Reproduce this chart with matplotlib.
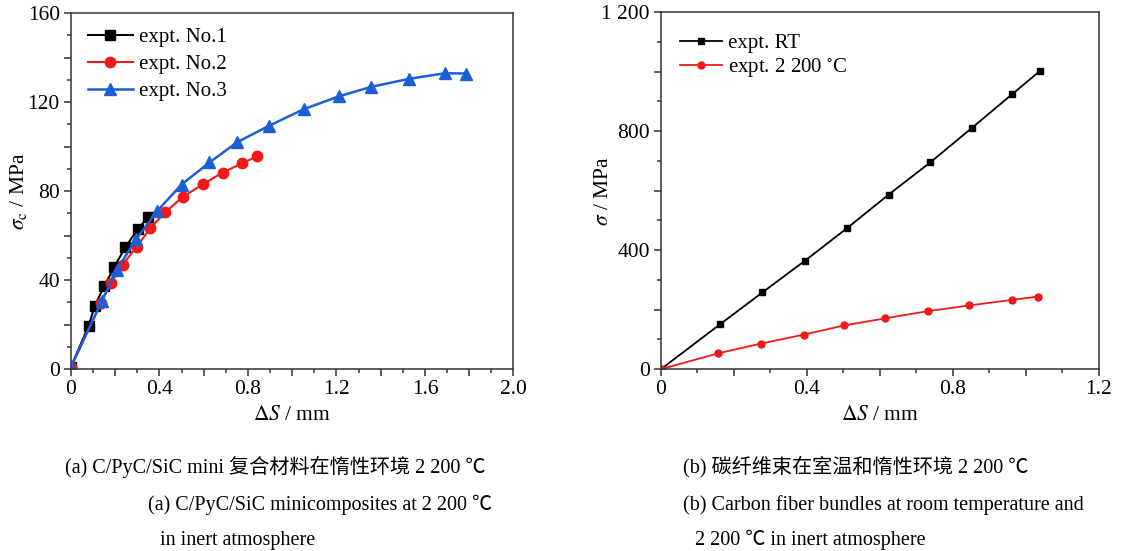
import matplotlib
matplotlib.use("Agg")
import matplotlib.pyplot as plt
from matplotlib.ticker import MultipleLocator, FuncFormatter

plt.rcParams['font.family'] = ['Liberation Serif', 'Noto Sans CJK SC']
plt.rcParams['mathtext.fontset'] = 'stix'

# (a) C/PyC/SiC minicomposites, stress vs displacement
no1_x = [0.0, 0.08, 0.108, 0.151, 0.196, 0.246, 0.301, 0.347]
no1_y = [1, 19.5, 28.6, 37.4, 46, 54.8, 62.8, 68.2]
no2_x = [0.0, 0.136, 0.181, 0.234, 0.297, 0.359, 0.427, 0.505, 0.599, 0.686, 0.775, 0.842]
no2_y = [1, 29.8, 38.8, 47, 55, 63.4, 70.6, 77.4, 83.3, 88.4, 92.6, 95.7]
no3_x = [0.0, 0.14, 0.208, 0.294, 0.389, 0.5, 0.626, 0.751, 0.897, 1.053, 1.21,
         1.357, 1.528, 1.689, 1.787]
no3_y = [1, 30.7, 44.8, 58.3, 71, 83, 92.9, 102, 109.5, 116.9, 122.6, 126.9,
         130.5, 133, 132.9]

# (b) carbon fiber bundles
rt_x = [0.0, 0.162, 0.278, 0.395, 0.51, 0.624, 0.738, 0.851, 0.963, 1.039]
rt_y = [0, 151, 258, 365, 474, 587, 695, 810, 925, 1003]
ht_x = [0.0, 0.156, 0.274, 0.391, 0.502, 0.615, 0.731, 0.844, 0.963, 1.032]
ht_y = [0, 53, 86, 116, 147, 171, 195, 214, 233, 244]

fig = plt.figure(figsize=(11.26, 5.51), dpi=100)
ax1 = fig.add_axes([0.063, 0.330, 0.393, 0.646])
ax2 = fig.add_axes([0.587, 0.330, 0.389, 0.648])

blue = '#1b5fd6'
red = '#f01818'

ax1.plot(no1_x, no1_y, '-s', color='black', ms=7, lw=1.5, label='expt. No.1')
ax1.plot(no2_x, no2_y, '-o', color=red, ms=7.5, lw=1.5, label='expt. No.2')
ax1.plot(no3_x, no3_y, '-^', color=blue, ms=8, lw=1.8, label='expt. No.3')

ax2.plot(rt_x, rt_y, '-s', color='black', ms=5, lw=1.3, label='expt. RT')
ax2.plot(ht_x, ht_y, '-o', color=red, ms=5, lw=1.3, label='expt. 2 200 $^{\\circ}$C')

ax1.set_xlim(0, 2.0)
ax1.set_ylim(0, 160)
ax2.set_xlim(0, 1.2)
ax2.set_ylim(0, 1200)

ax1.xaxis.set_major_locator(MultipleLocator(0.2))
ax1.xaxis.set_minor_locator(MultipleLocator(0.1))
ax1.yaxis.set_major_locator(MultipleLocator(20))
ax1.yaxis.set_minor_locator(MultipleLocator(10))
ax2.xaxis.set_major_locator(MultipleLocator(0.2))
ax2.xaxis.set_minor_locator(MultipleLocator(0.1))
ax2.yaxis.set_major_locator(MultipleLocator(200))
ax2.yaxis.set_minor_locator(MultipleLocator(100))


def xfmt(v, pos):
    k = round(v / 0.2)
    if k % 2:
        return ''
    if abs(v) < 1e-9:
        return '0'
    return f'{v:.1f}'


def yfmt_a(v, pos):
    k = round(v / 20)
    return '' if k % 2 else f'{v:.0f}'


def yfmt_b(v, pos):
    k = round(v / 200)
    if k % 2:
        return ''
    s = f'{v:.0f}'
    return '1 200' if s == '1200' else s


ax1.xaxis.set_major_formatter(FuncFormatter(xfmt))
ax2.xaxis.set_major_formatter(FuncFormatter(xfmt))
ax1.yaxis.set_major_formatter(FuncFormatter(yfmt_a))
ax2.yaxis.set_major_formatter(FuncFormatter(yfmt_b))

for ax in (ax1, ax2):
    for sp in ax.spines.values():
        sp.set_linewidth(1.1)
        sp.set_color('#333333')
    ax.tick_params(which='major', direction='out', length=5, width=1.1,
                   labelsize=15.5, pad=3, color='#333333')
    ax.tick_params(which='minor', direction='out', length=3, width=1.1,
                   color='#333333')
    ax.set_xlabel(r'$\Delta S$ / mm', fontsize=15.5)
    ax.xaxis.set_label_coords(0.5, -0.103)

ax1.set_ylabel(r'$\sigma_{\rm c}$ / MPa', fontsize=15.5)
ax2.set_ylabel(r'$\sigma$ / MPa', fontsize=15.5)
ax1.yaxis.set_label_coords(-0.095, 0.5)
ax2.yaxis.set_label_coords(-0.11, 0.5)

ax1.legend(loc='upper left', fontsize=15, frameon=False, handlelength=2.15,
           handletextpad=0.33, labelspacing=0.35, borderaxespad=0.3,
           bbox_to_anchor=(0.005, 1.0))
ax2.legend(loc='upper left', fontsize=15, frameon=False, handlelength=2.0,
           handletextpad=0.3, labelspacing=0.12, borderaxespad=0.3,
           bbox_to_anchor=(0.01, 0.98))

cap = dict(fontsize=14.5, va='center', ha='left')
fig.text(65 / 1126, 1 - 467 / 551, '(a) C/PyC/SiC mini 复合材料在惰性环境 2 200 ℃', **cap)
fig.text(148 / 1126, 1 - 505 / 551, '(a) C/PyC/SiC minicomposites at 2 200 ℃', **cap)
fig.text(160 / 1126, 1 - 540 / 551, 'in inert atmosphere', **cap)
fig.text(683 / 1126, 1 - 467 / 551, '(b) 碳纤维束在室温和惰性环境 2 200 ℃', **cap)
fig.text(683 / 1126, 1 - 505 / 551, '(b) Carbon fiber bundles at room temperature and', **cap)
fig.text(695 / 1126, 1 - 540 / 551, '2 200 ℃ in inert atmosphere', **cap)

fig.savefig('out.png', dpi=100)
